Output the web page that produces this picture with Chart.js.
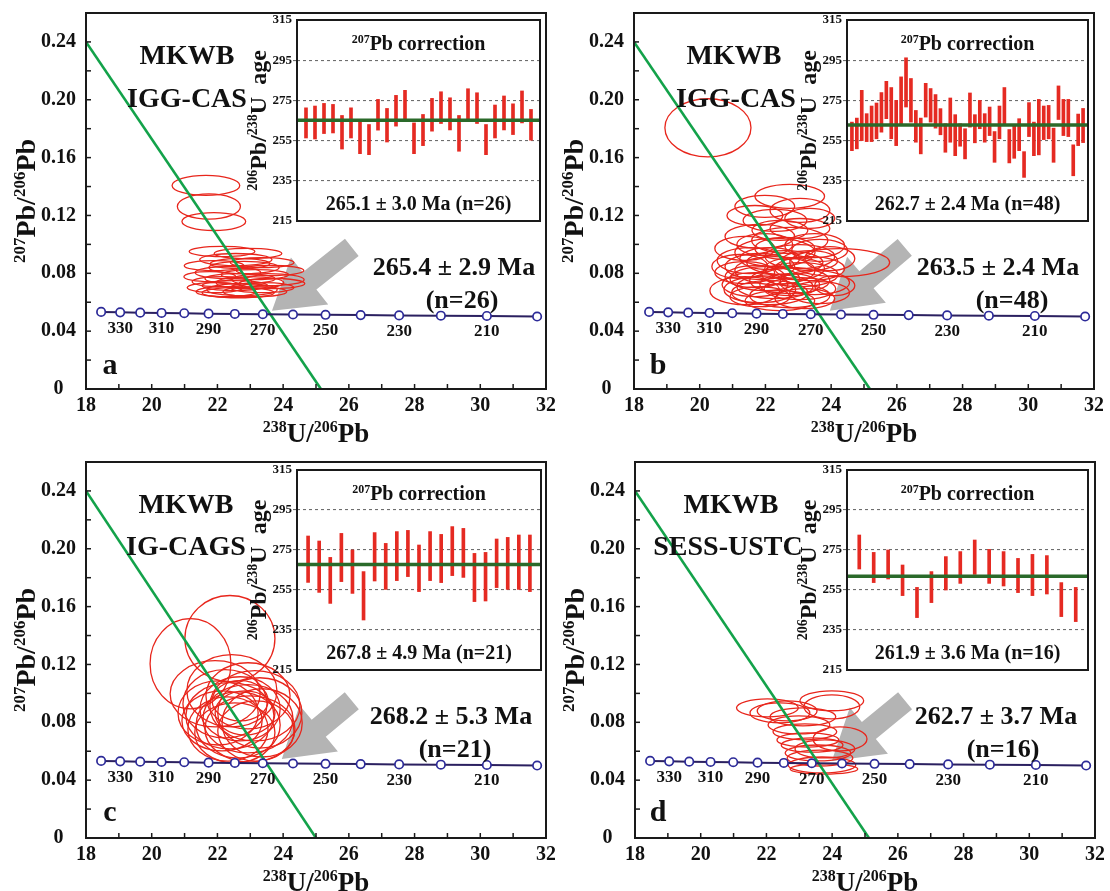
<!DOCTYPE html>
<html><head><meta charset="utf-8">
<script src="https://cdn.jsdelivr.net/npm/chart.js@4.4.1/dist/chart.umd.min.js"></script>
<style>
html,body{margin:0;padding:0;background:#fff;overflow:hidden;width:1110px;height:891px;position:relative;}
canvas{position:absolute;}
</style></head><body>
<script>
// ---------------- DATA ----------------
const concordiaAges = [340,330,320,310,300,290,280,270,260,250,240,230,220,210,200];
const concordiaX = [18.46,19.04,19.65,20.30,20.99,21.73,22.53,23.38,24.30,25.29,26.36,27.53,28.80,30.20,31.73];
const concordiaY = [0.0533,0.0530,0.0528,0.0526,0.0524,0.0521,0.0519,0.0517,0.0515,0.0513,0.0511,0.0509,0.0507,0.0505,0.0501];
const concordiaLabelAges = [330,310,290,270,250,230,210];

const xTicks = [18,20,22,24,26,28,30,32];
const yTicks = [0,0.04,0.08,0.12,0.16,0.20,0.24];
const insetTicks = [215,235,255,275,295,315];

// regression lines (x, y)
const lineA_x = [18, 25.15], lineA_y = [0.24, 0];
const lineB_x = [18, 25.18], lineB_y = [0.24, 0];
const lineC_x = [18, 25.0],  lineC_y = [0.24, 0];
const lineD_x = [18, 25.12], lineD_y = [0.24, 0];

// ellipses: centre x, centre y, half-width x, half-height y
const ellA_x = [21.65,21.74,21.89,22.14,22.93,22.56,23.36,21.90,22.81,23.60,22.32,23.14,21.77,22.69,23.54,22.14,22.99,22.53,21.93,23.36,22.75,22.26,23.14,23.66,22.69,22.63];
const ellA_y = [0.1408,0.1262,0.1158,0.0951,0.0937,0.0895,0.0874,0.0853,0.0840,0.0819,0.0805,0.0791,0.0777,0.0763,0.0756,0.0742,0.0735,0.0715,0.0701,0.0701,0.0687,0.0673,0.0673,0.0729,0.0867,0.0666];
const ellA_rx = [1.03,0.96,0.97,1.00,1.03,1.10,0.97,0.91,1.07,1.03,1.00,1.03,0.79,1.07,1.10,0.91,1.03,1.00,0.85,0.97,1.07,0.91,0.97,1.00,0.91,1.10];
const ellA_ry = [0.0069,0.0087,0.0062,0.0035,0.0035,0.0042,0.0035,0.0035,0.0042,0.0035,0.0042,0.0035,0.0035,0.0035,0.0042,0.0035,0.0042,0.0035,0.0035,0.0035,0.0042,0.0035,0.0035,0.0035,0.0035,0.0035];

const ellB_x = [20.25,22.74,21.98,23.05,22.29,23.35,21.68,21.83,22.74,21.37,23.50,22.29,23.05,21.53,23.96,22.59,21.83,23.35,22.29,21.37,23.05,24.26,21.98,22.74,21.68,23.50,22.29,23.05,21.37,22.13,23.65,22.74,21.83,23.20,22.44,21.22,22.89,22.13,23.65,22.59,23.35,21.68,22.74,24.11,21.98,23.05,22.44,21.83];
const ellB_y = [0.1806,0.1332,0.1263,0.1235,0.1166,0.1180,0.1200,0.1055,0.1027,0.0972,0.0992,0.0944,0.0916,0.0888,0.0902,0.0874,0.0847,0.0833,0.0819,0.0805,0.0791,0.0874,0.0763,0.0750,0.0722,0.0736,0.0708,0.0694,0.0680,0.0666,0.0666,0.0645,0.0638,0.0625,0.0611,0.0847,0.0833,0.0902,0.0958,0.0972,0.0888,0.0777,0.0722,0.0715,0.0999,0.1110,0.1097,0.0687];
const ellB_rx = [1.31,1.06,0.91,0.91,0.97,0.76,0.85,1.06,1.16,0.91,0.91,1.22,1.06,1.00,0.76,1.16,1.06,1.06,1.22,0.91,1.16,1.52,1.06,1.22,1.00,1.06,1.16,1.09,1.06,1.16,0.91,1.22,0.91,0.91,1.06,0.85,0.91,0.91,0.85,0.91,0.85,0.91,0.91,0.61,0.85,0.91,0.85,1.09];
const ellB_ry = [0.0201,0.0083,0.0076,0.0083,0.0076,0.0069,0.0069,0.0083,0.0090,0.0083,0.0083,0.0097,0.0083,0.0090,0.0083,0.0083,0.0090,0.0083,0.0097,0.0076,0.0083,0.0097,0.0083,0.0090,0.0083,0.0083,0.0083,0.0076,0.0097,0.0083,0.0076,0.0083,0.0069,0.0069,0.0069,0.0083,0.0076,0.0076,0.0076,0.0076,0.0069,0.0076,0.0076,0.0069,0.0076,0.0069,0.0069,0.0090];

const ellC_x = [22.38,21.18,21.93,22.44,22.93,22.23,23.14,22.69,22.02,23.29,22.38,22.93,22.14,23.36,22.63,22.99,22.32,22.84,22.69,23.17,22.53];
const ellC_y = [0.1379,0.1205,0.0997,0.1018,0.0983,0.0928,0.0914,0.0893,0.0865,0.0865,0.0845,0.0824,0.0810,0.0796,0.0782,0.0754,0.0754,0.0865,0.0949,0.0740,0.0727];
const ellC_rx = [1.37,1.23,1.37,1.37,1.28,1.28,1.37,1.22,1.22,1.28,1.34,1.37,1.22,1.22,1.28,1.37,1.22,0.91,0.85,1.16,1.22];
const ellC_ry = [0.0298,0.0312,0.0229,0.0250,0.0229,0.0236,0.0243,0.0222,0.0222,0.0243,0.0229,0.0236,0.0208,0.0236,0.0229,0.0229,0.0222,0.0153,0.0139,0.0208,0.0208];

const ellD_x = [22.03,22.63,23.99,23.99,23.11,22.99,23.17,23.26,24.24,23.39,23.57,23.63,23.69,23.75,22.41,23.78];
const ellD_y = [0.0900,0.0879,0.0949,0.0907,0.0838,0.0782,0.0734,0.0678,0.0685,0.0643,0.0588,0.0553,0.0505,0.0477,0.0865,0.0616];
const ellD_rx = [0.94,0.91,0.97,0.85,1.00,0.94,0.97,0.94,0.82,0.94,1.00,1.00,1.03,1.03,0.91,0.91];
const ellD_ry = [0.0062,0.0069,0.0069,0.0083,0.0062,0.0062,0.0055,0.0049,0.0083,0.0049,0.0055,0.0055,0.0055,0.0035,0.0069,0.0062];

// gray arrows: [tailX, tailY, tipX, tipY] in data units
const arrowA = [26.09,0.0979,23.66,0.0541];
const arrowB = [26.24,0.0979,23.96,0.0541];
const arrowC = [26.09,0.0949,23.96,0.0546];
const arrowD = [26.22,0.0949,23.99,0.0532];

// inset 207Pb-corrected 206Pb/238U ages (low, high) and weighted means
const ageA_lo = [256.3,255.8,258.5,258.8,250.8,256.3,248.5,248.0,260.2,254.3,262.2,264.7,248.5,252.5,259.7,263.5,260.3,249.7,265.5,263.5,248.0,256.3,260.3,258.0,263.8,255.2];
const ageA_hi = [271.3,272.2,273.5,273.0,267.5,271.3,265.5,263.0,275.5,271.0,277.5,280.0,263.8,268.0,276.0,279.3,276.3,267.5,280.8,278.8,263.0,272.7,277.2,273.3,279.7,270.5];
const meanA = 265.1;
const ageB_lo = [250.0,250.9,255.0,254.5,254.5,255.9,259.2,265.9,255.9,252.5,263.4,271.7,264.2,254.2,248.4,266.7,264.2,261.2,257.9,249.2,254.2,247.5,252.2,245.9,261.7,253.9,260.9,254.2,257.5,244.2,255.9,263.4,243.9,246.2,250.0,236.7,257.0,247.5,247.9,255.5,255.9,244.2,265.5,257.5,257.0,237.5,252.5,254.0];
const ageB_hi = [264.2,266.2,280.0,268.4,272.2,273.7,278.9,284.5,281.4,275.0,286.7,296.2,285.9,270.0,266.2,283.5,280.9,277.9,270.9,263.4,276.2,267.9,263.4,260.9,278.7,267.9,275.0,268.4,271.7,259.5,272.2,281.4,260.5,262.9,265.9,249.5,273.9,264.2,275.5,272.2,272.5,261.2,282.2,275.5,275.5,252.9,268.2,271.0];
const meanB = 262.7;
const ageC_lo = [258.8,253.8,248.3,259.2,253.3,240.0,259.5,255.3,259.7,261.7,254.2,259.7,258.7,262.2,261.3,249.2,249.5,256.2,255.3,255.3,254.2];
const ageC_hi = [282.0,279.5,271.3,283.3,275.0,264.2,283.7,278.3,284.2,284.8,277.5,284.2,282.8,286.7,285.8,273.3,273.8,280.5,281.3,282.5,282.5];
const meanC = 267.8;
const ageD_lo = [265.5,258.7,260.5,252.2,241.2,248.7,255.0,258.3,262.8,258.3,257.0,253.7,252.2,253.0,241.7,239.2];
const ageD_hi = [282.5,273.8,275.0,267.5,256.3,264.2,271.7,274.2,280.0,275.3,274.2,270.8,272.8,272.2,258.7,256.3];
const meanD = 261.9;

const panels = [
  {letter:'a', name1:'MKWB', name2:'IGG-CAS', age:'265.4 \u00b1 2.9 Ma', n:'(n=26)', inset:'265.1 \u00b1 3.0 Ma (n=26)',
   lx:lineA_x, ly:lineA_y, ex:ellA_x, ey:ellA_y, erx:ellA_rx, ery:ellA_ry, arrow:arrowA, lo:ageA_lo, hi:ageA_hi, mean:meanA},
  {letter:'b', name1:'MKWB', name2:'IGG-CAS', age:'263.5 \u00b1 2.4 Ma', n:'(n=48)', inset:'262.7 \u00b1 2.4 Ma (n=48)',
   lx:lineB_x, ly:lineB_y, ex:ellB_x, ey:ellB_y, erx:ellB_rx, ery:ellB_ry, arrow:arrowB, lo:ageB_lo, hi:ageB_hi, mean:meanB},
  {letter:'c', name1:'MKWB', name2:'IG-CAGS', age:'268.2 \u00b1 5.3 Ma', n:'(n=21)', inset:'267.8 \u00b1 4.9 Ma (n=21)',
   lx:lineC_x, ly:lineC_y, ex:ellC_x, ey:ellC_y, erx:ellC_rx, ery:ellC_ry, arrow:arrowC, lo:ageC_lo, hi:ageC_hi, mean:meanC},
  {letter:'d', name1:'MKWB', name2:'SESS-USTC', age:'262.7 \u00b1 3.7 Ma', n:'(n=16)', inset:'261.9 \u00b1 3.6 Ma (n=16)',
   lx:lineD_x, ly:lineD_y, ex:ellD_x, ey:ellD_y, erx:ellD_rx, ery:ellD_ry, arrow:arrowD, lo:ageD_lo, hi:ageD_hi, mean:meanD}
];

// ---------------- LAYOUT ----------------
const layoutMain = [
  {left:0, top:0}, {left:548, top:0}, {left:0, top:449}, {left:549, top:449}
];
const layoutText = [
  {n1:[187,57], n2:[187,100], age:[454,268], n:[462,301], let:[110,366]},
  {n1:[186,57], n2:[188,100], age:[450,268], n:[464,301], let:[110,366]},
  {n1:[186,57], n2:[186,99], age:[451,268], n:[455,301], let:[110,364]},
  {n1:[182,57], n2:[179,99], age:[447,268], n:[454,301], let:[109,364]}
];
const layoutInset = [
  {l:297,t:20,r:540,b:221,pad:1},
  {l:847,t:20,r:1088,b:221,pad:1},
  {l:297,t:470,r:541,b:670,pad:1},
  {l:847,t:470,r:1088,b:670,pad:0.85}
];

const SERIF = '"Liberation Serif","Times New Roman",serif';
const font = (s) => 'bold ' + s + 'px ' + SERIF;

function richWidth(ctx, segs, big, small){
  let w = 0;
  for (const [t, sup] of segs){ ctx.font = font(sup?small:big); w += ctx.measureText(t).width; }
  return w;
}
function drawRich(ctx, segs, x, y, big, small){
  const w = richWidth(ctx, segs, big, small);
  let cx = x - w/2;
  ctx.textAlign = 'left'; ctx.textBaseline = 'alphabetic';
  for (const [t, sup] of segs){
    ctx.font = font(sup?small:big);
    ctx.fillText(t, cx, sup ? y - big*0.36 : y);
    cx += ctx.measureText(t).width;
  }
}

function mkCanvas(l,t,w,h){
  const c = document.createElement('canvas');
  c.width = w; c.height = h; c.style.left = l+'px'; c.style.top = t+'px';
  c.style.width = w+'px'; c.style.height = h+'px';
  document.body.appendChild(c);
  return c;
}

function mainPlugin(p, lt){
  return {
    id:'main'+p.letter,
    beforeDatasetsDraw(chart){
      const ctx = chart.ctx, xs = chart.scales.x, ys = chart.scales.y;
      const a = chart.chartArea;
      ctx.save();
      ctx.beginPath(); ctx.rect(a.left, a.top, a.right-a.left, a.bottom-a.top); ctx.clip();
      const sx = xs.getPixelForValue(p.arrow[0]), sy = ys.getPixelForValue(p.arrow[1]);
      const tx = xs.getPixelForValue(p.arrow[2]), ty = ys.getPixelForValue(p.arrow[3]);
      const dx = tx-sx, dy = ty-sy, L = Math.hypot(dx,dy);
      const ux = dx/L, uy = dy/L, nx = -uy, ny = ux;
      const HL = 48, HW = 30, SW = 11;
      const hx = tx - ux*HL, hy = ty - uy*HL;
      ctx.fillStyle = '#b4b4b4';
      ctx.beginPath();
      ctx.moveTo(sx+nx*SW, sy+ny*SW);
      ctx.lineTo(hx+nx*SW, hy+ny*SW);
      ctx.lineTo(hx+nx*HW, hy+ny*HW);
      ctx.lineTo(tx, ty);
      ctx.lineTo(hx-nx*HW, hy-ny*HW);
      ctx.lineTo(hx-nx*SW, hy-ny*SW);
      ctx.lineTo(sx-nx*SW, sy-ny*SW);
      ctx.closePath(); ctx.fill();
      ctx.strokeStyle = '#e8261c'; ctx.lineWidth = 1.3;
      for (let i=0;i<p.ex.length;i++){
        const cx = xs.getPixelForValue(p.ex[i]), cy = ys.getPixelForValue(p.ey[i]);
        const rx = Math.abs(xs.getPixelForValue(p.ex[i]+p.erx[i]) - cx);
        const ry = Math.abs(ys.getPixelForValue(p.ey[i]+p.ery[i]) - cy);
        ctx.beginPath(); ctx.ellipse(cx, cy, rx, ry, 0, 0, Math.PI*2); ctx.stroke();
      }
      ctx.restore();
    },
    afterDraw(chart){
      const ctx = chart.ctx, xs = chart.scales.x, ys = chart.scales.y;
      const a = chart.chartArea;
      ctx.save();
      ctx.strokeStyle = '#1a1a1a'; ctx.lineWidth = 2;
      ctx.strokeRect(a.left, a.top, a.right-a.left, a.bottom-a.top);
      ctx.lineWidth = 1.5;
      xs.ticks.forEach(t => { const px = xs.getPixelForValue(t.value);
        ctx.beginPath(); ctx.moveTo(px, a.bottom); ctx.lineTo(px, a.bottom-5); ctx.stroke(); });
      ys.ticks.forEach(t => { const py = ys.getPixelForValue(t.value);
        ctx.beginPath(); ctx.moveTo(a.left, py); ctx.lineTo(a.left+5, py); ctx.stroke(); });
      ctx.fillStyle = '#111'; ctx.font = font(17); ctx.textAlign='center'; ctx.textBaseline='middle';
      concordiaLabelAges.forEach(age => {
        const i = concordiaAges.indexOf(age);
        ctx.fillText(String(age), xs.getPixelForValue(concordiaX[i]), ys.getPixelForValue(concordiaY[i]) + 16);
      });
      ctx.font = font(28);
      ctx.fillText(p.name1, lt.n1[0], lt.n1[1]);
      ctx.fillText(p.name2, lt.n2[0], lt.n2[1]);
      ctx.font = font(26);
      ctx.fillText(p.age, lt.age[0], lt.age[1]);
      ctx.fillText(p.n, lt.n[0], lt.n[1]);
      ctx.font = font(30);
      ctx.fillText(p.letter, lt.let[0], lt.let[1]);
      drawRich(ctx, [['238',1],['U/',0],['206',1],['Pb',0]], (a.left+a.right)/2, a.bottom+53, 27, 16);
      ctx.translate(35, (a.top+a.bottom)/2); ctx.rotate(-Math.PI/2);
      drawRich(ctx, [['207',1],['Pb/',0],['206',1],['Pb',0]], 0, 0, 28, 17);
      ctx.restore();
    }
  };
}

function makeMain(idx){
  const p = panels[idx], L = layoutMain[idx], lt = layoutText[idx];
  const cv = mkCanvas(L.left, L.top, 555, 445);
  new Chart(cv, {
    type:'scatter',
    data:{datasets:[
      {type:'line', data:concordiaX.map((x,i)=>({x, y:concordiaY[i]})), borderColor:'#2b2060', borderWidth:2,
       pointRadius:4.2, pointBackgroundColor:'#ffffff', pointBorderColor:'#2c2a98', pointBorderWidth:1.7, order:0},
      {type:'line', data:p.lx.map((x,i)=>({x, y:p.ly[i]})), borderColor:'#13a24a', borderWidth:2.6, pointRadius:0, order:1}
    ]},
    options:{
      responsive:false, animation:false, devicePixelRatio:1,
      layout:{padding:{top:13, right:9, left:0, bottom:0}},
      plugins:{legend:{display:false}, tooltip:{enabled:false}},
      scales:{
        x:{type:'linear', min:18, max:32,
           afterFit:s=>{s.height=56; s.paddingLeft=0; s.paddingRight=0;},
           grid:{display:false, drawTicks:false}, border:{display:false},
           ticks:{stepSize:1, autoSkip:false, maxRotation:0, padding:5, color:'#111',
                  font:{family:SERIF, weight:'bold', size:20},
                  callback:v => xTicks.includes(v) ? String(v) : ''}},
        y:{type:'linear', min:0, max:0.26,
           afterFit:s=>{s.width=86; s.paddingTop=0; s.paddingBottom=0;},
           grid:{display:false, drawTicks:false}, border:{display:false},
           ticks:{stepSize:0.02, autoSkip:false, crossAlign:'center', padding:10, color:'#111',
                  font:{family:SERIF, weight:'bold', size:20},
                  callback:v => { const k = yTicks.findIndex(t => Math.abs(t-v)<1e-6);
                                  return k<0 ? '' : (k===0 ? '0' : yTicks[k].toFixed(2)); }}}
      }
    },
    plugins:[mainPlugin(p, lt)]
  });
}

function insetPlugin(p, L){
  return {
    id:'inset'+p.letter,
    beforeDraw(chart){
      const a = chart.chartArea, ctx = chart.ctx;
      ctx.save(); ctx.fillStyle='#fff'; ctx.fillRect(a.left, a.top, a.right-a.left, a.bottom-a.top); ctx.restore();
    },
    afterDraw(chart){
      const a = chart.chartArea, ctx = chart.ctx;
      ctx.save();
      ctx.strokeStyle = '#1a1a1a'; ctx.lineWidth = 2;
      ctx.strokeRect(a.left, a.top, a.right-a.left, a.bottom-a.top);
      ctx.fillStyle = '#111';
      drawRich(ctx, [['207',1],['Pb correction',0]], (a.left+a.right)/2, a.top+30, 20, 12);
      ctx.font = font(20); ctx.textAlign='center'; ctx.textBaseline='alphabetic';
      ctx.fillText(p.inset, (a.left+a.right)/2, a.bottom-11);
      ctx.translate(a.left-31, (a.top+a.bottom)/2); ctx.rotate(-Math.PI/2);
      drawRich(ctx, [['206',1],['Pb/',0],['238',1],['U  age',0]], 0, 0, 24, 14);
      ctx.restore();
    }
  };
}

function makeInset(idx){
  const p = panels[idx], L = layoutInset[idx];
  const padL = 60, padT = 12, padR = 6, padB = 9;
  const cv = mkCanvas(L.l-padL, L.t-padT, (L.r-L.l)+padL+padR, (L.b-L.t)+padT+padB);
  const n = p.lo.length;
  const xmin = 1-L.pad, xmax = n+L.pad;
  new Chart(cv, {
    type:'bar',
    data:{datasets:[
      {type:'line', data:[{x:xmin,y:p.mean},{x:xmax,y:p.mean}], borderColor:'#2a6a2a', borderWidth:3.5, pointRadius:0, order:0},
      {type:'bar', data:p.lo.map((lo,i)=>({x:i+1, y:[lo, p.hi[i]]})), backgroundColor:'#e52a22', barThickness:3, borderWidth:0, order:1}
    ]},
    options:{
      responsive:false, animation:false, devicePixelRatio:1,
      layout:{padding:{top:padT, right:padR, left:0, bottom:padB}},
      plugins:{legend:{display:false}, tooltip:{enabled:false}},
      scales:{
        x:{type:'linear', min:xmin, max:xmax, display:false, offset:false},
        y:{type:'linear', min:215, max:315,
           afterFit:s=>{s.width=padL; s.paddingTop=0; s.paddingBottom=0;},
           grid:{drawTicks:true, tickLength:4, lineWidth:1.1, tickBorderDash:[3,3],
                 color:c => (c.tick && (c.tick.value===215 || c.tick.value===315)) ? 'rgba(0,0,0,0)' : '#6e6e6e'},
           border:{display:false, dash:[3,3]},
           ticks:{stepSize:20, autoSkip:false, padding:1, color:'#111',
                  font:{family:SERIF, weight:'bold', size:13},
                  callback:v => insetTicks.includes(v) ? String(v) : ''}}
      }
    },
    plugins:[insetPlugin(p, L)]
  });
}

for (let i=0;i<4;i++){ makeMain(i); }
for (let i=0;i<4;i++){ makeInset(i); }
</script>
</body></html>
